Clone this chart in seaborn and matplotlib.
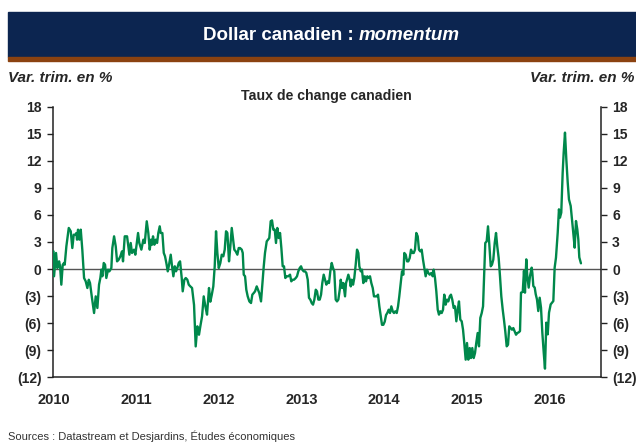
import pandas as pd
import seaborn as sns
import matplotlib
matplotlib.use("Agg")
import matplotlib.pyplot as plt
from matplotlib.patches import Rectangle

# years elapsed since January 2010
t_offset = [
    0.000, 0.006, 0.030, 0.046, 0.067, 0.079, 0.094, 0.111, 0.127, 0.135,
    0.155, 0.184, 0.208, 0.227, 0.244, 0.264, 0.276, 0.284, 0.296, 0.312,
    0.329, 0.348, 0.369, 0.389, 0.409, 0.426, 0.441, 0.462, 0.490, 0.510,
    0.530, 0.550, 0.566, 0.578, 0.590, 0.607, 0.623, 0.638, 0.659, 0.675,
    0.699, 0.711, 0.732, 0.752, 0.768, 0.788, 0.808, 0.828, 0.840, 0.861,
    0.889, 0.917, 0.933, 0.949, 0.973, 0.989, 1.022, 1.037, 1.062, 1.086,
    1.103,
    1.127, 1.146, 1.163, 1.179, 1.191, 1.203, 1.219, 1.236, 1.252, 1.267,
    1.284, 1.296, 1.316, 1.333, 1.348, 1.364, 1.381, 1.397, 1.417, 1.433,
    1.449, 1.466, 1.481, 1.497, 1.514, 1.530, 1.550, 1.562, 1.582, 1.599,
    1.618, 1.635, 1.654, 1.675, 1.699, 1.719, 1.739, 1.759, 1.775, 1.796,
    1.816, 1.836, 1.856, 1.880, 1.896, 1.913, 1.932, 1.949, 1.965, 1.981,
    1.998, 2.017, 2.034, 2.053, 2.070, 2.086, 2.102, 2.122, 2.138, 2.155,
    2.171, 2.186, 2.203, 2.223, 2.239,
    2.255, 2.276, 2.288, 2.300, 2.316, 2.331, 2.348, 2.368, 2.388, 2.404,
    2.421, 2.437, 2.457, 2.473, 2.488, 2.509, 2.525, 2.542, 2.557, 2.578,
    2.594, 2.609, 2.626, 2.642, 2.658, 2.675, 2.690, 2.706, 2.723, 2.739,
    2.755, 2.771, 2.787, 2.803, 2.820, 2.839, 2.860, 2.875, 2.892, 2.908,
    2.929, 2.944, 2.960, 2.977, 2.993, 3.008, 3.025, 3.041, 3.057, 3.074,
    3.089, 3.105, 3.122, 3.138, 3.154, 3.171, 3.186, 3.202, 3.219, 3.235,
    3.250, 3.267, 3.283, 3.299, 3.316, 3.331, 3.347, 3.364, 3.380, 3.395,
    3.412, 3.428, 3.444,
    3.461, 3.473, 3.489, 3.504, 3.525, 3.537, 3.549, 3.565, 3.582, 3.594,
    3.606, 3.622, 3.637, 3.654, 3.670, 3.686, 3.698, 3.715, 3.730, 3.746,
    3.763, 3.779, 3.794, 3.811, 3.827, 3.843, 3.860, 3.875, 3.891, 3.908,
    3.924, 3.940, 3.957, 3.972, 3.988, 4.005, 4.021, 4.036, 4.053, 4.069,
    4.085, 4.102, 4.117, 4.133, 4.150, 4.166, 4.181, 4.198, 4.214, 4.230,
    4.242, 4.259, 4.275, 4.290, 4.307, 4.323, 4.339, 4.356, 4.371, 4.387,
    4.404, 4.419, 4.435, 4.452, 4.468, 4.484, 4.500, 4.516, 4.532, 4.549,
    4.568, 4.585, 4.597, 4.613, 4.629, 4.646, 4.661, 4.677, 4.694, 4.710,
    4.725, 4.742, 4.758, 4.774, 4.791, 4.806, 4.822, 4.839, 4.855, 4.871,
    4.888, 4.903, 4.919, 4.936, 4.952, 4.967, 4.984, 5.000, 5.016, 5.033,
    5.048, 5.064, 5.081, 5.097, 5.112, 5.129, 5.145, 5.161, 5.178, 5.194,
    5.209, 5.221, 5.238, 5.254, 5.270, 5.287, 5.302, 5.318, 5.335, 5.351,
    5.366, 5.383, 5.399, 5.415, 5.432, 5.447, 5.463, 5.480, 5.496, 5.511,
    5.528, 5.544, 5.560, 5.577, 5.593, 5.608, 5.625,
    5.641, 5.653, 5.674, 5.689, 5.701, 5.717, 5.729, 5.746, 5.762, 5.782,
    5.790, 5.802, 5.819, 5.831, 5.846, 5.862, 5.879, 5.895, 5.911, 5.928,
    5.943, 5.959, 5.976, 5.992, 6.012, 6.028, 6.044, 6.060, 6.076, 6.097,
    6.112, 6.124, 6.140, 6.157, 6.169, 6.185, 6.201, 6.218, 6.233, 6.254,
    6.270, 6.285, 6.302, 6.318, 6.334, 6.346, 6.358, 6.378,
]

# quarterly % change of the Canadian dollar
momentum = [
    1.96, -0.81, 1.78, 0.11, 0.85, 0.30, -1.74, 0.48, 0.67, 0.48,
    2.52, 4.56, 4.19, 2.33, 3.81, 3.81, 4.00, 3.26, 4.37, 3.26,
    4.37, 2.11, -1.00, -1.37, -2.11, -1.19, -1.56, -3.04, -4.89, -3.04,
    -4.33, -1.74, -1.00, -0.07, -0.81, 0.67, 0.48, -1.00, -0.07, -0.26,
    0.11, 2.33, 3.63, 2.52, 0.85, 1.04, 1.41, 1.96, 0.85, 3.63,
    3.63, 1.59, 2.89, 1.78, 2.15, 1.59, 4.00, 2.89, 2.15, 3.26,
    2.89,
    5.30, 4.00, 2.15, 3.26, 2.70, 3.63, 2.70, 3.26, 2.89, 4.00,
    4.74, 4.00, 4.00, 1.78, 1.41, 0.67, -0.26, 0.48, 1.59, 0.30,
    -0.81, 0.30, -0.26, 0.11, 0.67, 0.85, -1.00, -2.48, -1.19, -1.00,
    -1.19, -1.74, -1.93, -2.11, -4.00, -8.60, -6.37, -7.30, -6.37, -5.26,
    -3.04, -4.15, -5.07, -2.11, -3.63, -2.89, -1.93, 0.30, 4.19, 1.78,
    0.11, 0.67, 1.59, 1.41, 2.15, 4.19, 4.00, 0.85, 2.52, 4.56,
    3.26, 2.15, 1.96, 1.59, 2.33,
    2.33, 2.15, 1.78, -0.63, -0.81, -2.30, -3.04, -3.60, -3.78, -2.85,
    -2.67, -2.48, -1.93, -2.30, -2.67, -3.60, -1.74, 0.30, 1.78, 3.07,
    3.26, 3.44, 5.30, 5.40, 4.37, 4.37, 2.89, 4.56, 3.44, 4.00,
    2.33, 0.30, 0.30, -1.00, -0.81, -0.81, -0.63, -1.37, -1.19, -1.19,
    -1.00, -0.81, -0.26, 0.11, 0.30, -0.07, -0.26, -0.26, -0.44, -1.19,
    -3.20, -3.40, -3.78, -3.96, -3.40, -2.30, -2.48, -3.40, -3.40, -2.85,
    -1.56, -0.63, -1.19, -1.74, -1.37, -1.56, -0.26, 0.67, 0.11, -0.26,
    -3.40, -3.60, -3.40,
    -2.30, -1.19, -2.11, -1.56, -3.04, -1.56, -1.19, -0.63, -1.19, -1.93,
    -1.19, -1.74, -1.00, 0.48, 2.15, 1.78, 0.30, -0.26, -0.07, -1.56,
    -0.81, -1.37, -0.81, -1.00, -0.81, -1.56, -2.11, -3.04, -3.04, -3.04,
    -2.85, -4.15, -5.26, -6.20, -6.20, -5.85, -5.11, -4.89, -4.52, -4.89,
    -4.15, -4.70, -4.89, -4.70, -4.89, -4.15, -3.04, -1.56, -0.26, -0.63,
    1.78, 1.59, 0.85, 0.85, 1.22, 2.15, 1.78, 1.78, 2.15, 4.00,
    3.63, 2.15, 1.96, 2.15, 1.04, 0.11, -0.81, -0.07, -0.44, -0.63,
    -0.44, -0.81, -0.07, -1.00, -2.48, -4.52, -5.07, -4.70, -4.89, -4.52,
    -2.85, -3.96, -3.40, -3.60, -3.04, -2.85, -3.40, -4.33, -4.15, -5.81,
    -4.52, -3.60, -5.63, -5.81, -6.74, -8.22, -10.07, -8.22, -10.07, -8.78,
    -9.89, -8.78, -9.89, -9.33, -8.22, -7.11, -8.59, -5.44, -4.89, -4.15,
    -0.07, 2.89, 3.07, 4.74, 2.70, 0.30, 0.48, 1.04, 2.89, 4.00,
    2.52, 1.22, -0.81, -3.04, -4.52, -5.63, -6.93, -8.59, -8.41, -6.37,
    -6.56, -6.74, -6.56, -6.93, -7.30, -7.11, -7.04,
    -6.90, -2.63, -2.55, -0.20, -2.63, 1.07, -0.78, -2.07, -0.78, 0.15,
    -0.41, -1.89, -2.07, -2.80, -3.37, -4.67, -3.19, -4.30, -7.07, -9.30,
    -11.07, -5.96, -7.26, -4.85, -3.93, -3.74, -3.56, 0.15, 1.26, 4.04,
    6.63, 5.70, 6.26, 10.70, 12.90, 15.15, 12.20, 9.60, 7.74, 7.00,
    5.50, 4.04, 2.37, 5.33, 4.40, 3.30, 1.30, 0.63,
]

y_ticks = [18, 15, 12, 9, 6, 3, 0, -3, -6, -9, -12]
y_labels = ["18", "15", "12", "9", "6", "3", "0", "(3)", "(6)", "(9)", "(12)"]
x_years = [2010, 2011, 2012, 2013, 2014, 2015, 2016]

df = pd.DataFrame({"annee": [2010 + t for t in t_offset], "var": momentum})

sns.set_style("white")
plt.rcParams["font.family"] = ["Liberation Sans", "DejaVu Sans"]

fig = plt.figure(figsize=(6.36, 4.42), dpi=100)

# header band + orange rule
fig.patches.append(Rectangle((8 / 636, 1 - 57 / 442), 1, 45 / 442,
                             transform=fig.transFigure, color="#0C2550", zorder=0))
fig.patches.append(Rectangle((8 / 636, 1 - 61 / 442), 1, 4 / 442,
                             transform=fig.transFigure, color="#8B4210", zorder=0))
t1 = fig.text(203 / 636, 1 - 36 / 442, "Dollar canadien :", color="white",
              fontsize=13.5, fontweight="bold", ha="left", va="center")
fig.add_artist(plt.Annotation("momentum", xy=(1, 0), xycoords=t1,
                              xytext=(3.5, 0), textcoords="offset points",
                              color="white", fontsize=13.5, fontweight="bold",
                              style="italic", ha="left", va="bottom"))

ax = fig.add_axes([0.0829, 0.147, 0.862, 0.611])
sns.lineplot(data=df, x="annee", y="var", ax=ax, color="#00884B", linewidth=1.7,
             estimator=None, sort=False, zorder=3)
ax.axhline(0, color="#555555", lw=1.0, zorder=2)

ax.set_xlim(2009.99, 2016.62)
ax.set_ylim(-12, 18)
ax.set_yticks(y_ticks)
ax.set_yticklabels(y_labels)
ax.set_xticks(x_years)
ax.set_xticklabels([str(y) for y in x_years])
ax.set_xlabel("")
ax.set_ylabel("")

for side in ["left", "right", "bottom"]:
    ax.spines[side].set_visible(True)
    ax.spines[side].set_color("#222222")
    ax.spines[side].set_linewidth(1.1)
ax.spines["top"].set_visible(False)

ax.tick_params(axis="y", which="both", left=True, right=True, labelleft=True,
               labelright=True, direction="out", length=4, width=1,
               color="#222222", pad=4, labelsize=10)
ax.tick_params(axis="x", bottom=False, labelsize=10.5, pad=8)
for lab in ax.get_yticklabels() + ax.get_xticklabels():
    lab.set_fontweight("bold")

fig.text(0.513, 1 - 96 / 442, "Taux de change canadien", fontsize=10.2,
         fontweight="bold", ha="center", va="center")
fig.text(8 / 636, 1 - 78 / 442, "Var. trim. en %", fontsize=11, fontweight="bold",
         style="italic", ha="left", va="center")
fig.text(634 / 636, 1 - 78 / 442, "Var. trim. en %", fontsize=11, fontweight="bold",
         style="italic", ha="right", va="center")
fig.text(8 / 636, 1 - 436 / 442, "Sources : Datastream et Desjardins, Études économiques",
         fontsize=8, color="#333333", ha="left", va="center")

fig.savefig("out.png", dpi=100)
